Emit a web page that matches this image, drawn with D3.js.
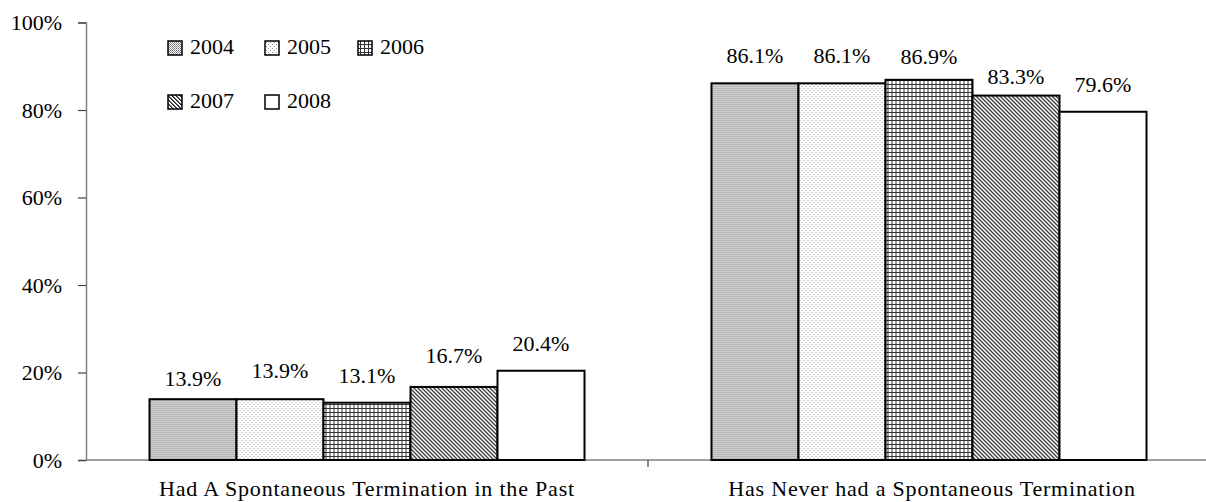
<!DOCTYPE html>
<html>
<head>
<meta charset="utf-8">
<script src="https://cdn.jsdelivr.net/npm/d3@7"></script>
<style>
  html, body { margin: 0; padding: 0; background: #fff; }
  svg text { font-family: "Liberation Serif", "DejaVu Serif", serif !important; }
</style>
</head>
<body>
<svg id="chart" width="1206" height="502"></svg>
<script>
// Survey groups and yearly shares (percent)
const categories = ["Had A Spontaneous Termination in the Past", "Has Never had a Spontaneous Termination"];
const years = ["2004", "2005", "2006", "2007", "2008"];
const values2004 = [13.9, 86.1];
const values2005 = [13.9, 86.1];
const values2006 = [13.1, 86.9];
const values2007 = [16.7, 83.3];
const values2008 = [20.4, 79.6];
const yTicks = [0, 20, 40, 60, 80, 100];

const seriesValues = [values2004, values2005, values2006, values2007, values2008];

// Gap between each bar top and its label baseline (px), per category then per year
const labelGap = [
  [13, 21, 20, 24, 20],
  [20, 20, 16, 12, 20]
];

const svg = d3.select("#chart");
const plotLeft = 86, plotTop = 22.5, plotBottom = 460;
const catWidth = 562;
const fontSize = 22;

const x0 = d3.scaleBand().domain(categories).range([plotLeft, plotLeft + catWidth * 2]).paddingInner(0).paddingOuter(0);
const barW = 87;
const x1 = d3.scaleBand().domain(years).range([0, barW * years.length]).padding(0);
const y = d3.scaleLinear().domain([0, 100]).range([plotBottom, plotTop]);

// Fill patterns for each year
const defs = svg.append("defs");
function pat(id, size, draw) {
  const p = defs.append("pattern").attr("id", id).attr("patternUnits", "userSpaceOnUse")
    .attr("width", size).attr("height", size);
  p.append("rect").attr("width", size).attr("height", size).attr("fill", "#fff");
  draw(p);
}
pat("p2004", 2, p => {
  p.append("rect").attr("x", 0).attr("y", 0).attr("width", 1).attr("height", 1).attr("fill", "#6e6e6e");
  p.append("rect").attr("x", 1).attr("y", 1).attr("width", 1).attr("height", 1).attr("fill", "#9a9a9a");
});
pat("p2005", 4, p => {
  p.append("rect").attr("x", 0).attr("y", 0).attr("width", 1).attr("height", 1).attr("fill", "#9a9a9a");
  p.append("rect").attr("x", 2).attr("y", 2).attr("width", 1).attr("height", 1).attr("fill", "#9a9a9a");
});
pat("p2006", 4, p => {
  p.append("rect").attr("x", 0).attr("y", 0).attr("width", 4).attr("height", 1).attr("fill", "#333");
  p.append("rect").attr("x", 0).attr("y", 0).attr("width", 1).attr("height", 4).attr("fill", "#333");
});
pat("p2007", 4, p => {
  for (let i = 0; i < 4; i++) {
    p.append("rect").attr("x", i).attr("y", i).attr("width", 1).attr("height", 1).attr("fill", "#222");
    p.append("rect").attr("x", (i + 1) % 4).attr("y", i).attr("width", 1).attr("height", 1).attr("fill", "#666");
  }
});
pat("p2008", 2, p => {});

// Y axis
const yAxis = d3.axisLeft(y).tickValues(yTicks).tickFormat(d => d + "%").tickSize(8).tickPadding(16);
const gy = svg.append("g").attr("transform", `translate(${plotLeft},0)`).call(yAxis);
gy.attr("font-family", null);
gy.select(".domain").attr("stroke", "#808080").attr("stroke-width", 1.5);
gy.selectAll(".tick line").attr("stroke", "#404040").attr("stroke-width", 1.2);
gy.selectAll(".tick text").attr("font-size", fontSize).attr("fill", "#000").attr("dy", "0.34em");

// X axis baseline with category separator ticks
const gx = svg.append("g");
gx.append("line").attr("x1", plotLeft).attr("x2", plotLeft + catWidth * 2).attr("y1", y(0)).attr("y2", y(0))
  .attr("stroke", "#808080").attr("stroke-width", 1.5);
gx.selectAll("line.sep").data(categories.slice(1)).join("line").attr("class", "sep")
  .attr("x1", d => x0(d)).attr("x2", d => x0(d)).attr("y1", y(0)).attr("y2", y(0) + 7)
  .attr("stroke", "#404040").attr("stroke-width", 1.2);
gx.selectAll("text.cat").data(categories).join("text").attr("class", "cat")
  .attr("x", d => x0(d) + x0.bandwidth() / 2 - (d === categories[1] ? -3 : 0))
  .attr("y", 496).attr("text-anchor", "middle").attr("font-size", fontSize).attr("fill", "#000")
  .attr("letter-spacing", 0.8)
  .text(d => d);

// Bars
const groupOffset = (x0.bandwidth() - barW * years.length) / 2;
categories.forEach((cat, ci) => {
  const g = svg.append("g").attr("transform", `translate(${x0(cat) + groupOffset},0)`);
  years.forEach((yr, si) => {
    const v = seriesValues[si][ci];
    g.append("rect")
      .attr("x", x1(yr)).attr("y", y(v))
      .attr("width", x1.bandwidth()).attr("height", y(0) - y(v))
      .attr("fill", `url(#p${yr})`).attr("stroke", "#000").attr("stroke-width", 2);
    g.append("text")
      .attr("x", x1(yr) + x1.bandwidth() / 2)
      .attr("y", y(v) - labelGap[ci][si])
      .attr("text-anchor", "middle").attr("font-size", fontSize).attr("fill", "#000")
      .text(v.toFixed(1) + "%");
  });
});

// Legend
const legendPos = [[168, 41], [265, 41], [358, 41], [168, 95], [265, 95]];
const lg = svg.append("g");
years.forEach((yr, i) => {
  const [lx, ly] = legendPos[i];
  lg.append("rect").attr("x", lx).attr("y", ly).attr("width", 14).attr("height", 14)
    .attr("fill", `url(#p${yr})`).attr("stroke", "#000").attr("stroke-width", 1.5);
  lg.append("text").attr("x", lx + 22).attr("y", ly + 12.5).attr("font-size", fontSize).attr("fill", "#000").text(yr);
});
</script>
</body>
</html>
